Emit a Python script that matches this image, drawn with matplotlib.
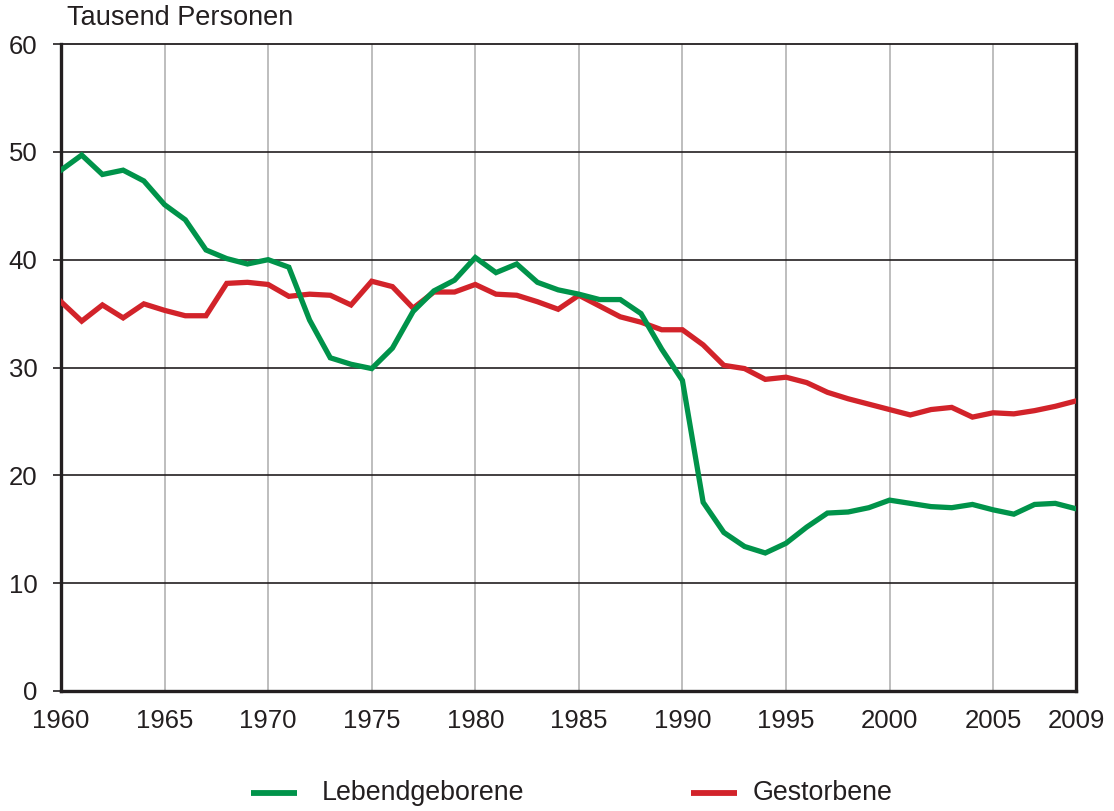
import matplotlib
matplotlib.use("Agg")
import matplotlib.pyplot as plt
from matplotlib.lines import Line2D

years = list(range(1960, 2010))
lebendgeborene = [48.3, 49.7, 47.9, 48.3, 47.3, 45.1, 43.7, 40.9, 40.1, 39.6,
                  40.0, 39.3, 34.4, 30.9, 30.3, 29.9, 31.8, 35.2, 37.1, 38.1,
                  40.2, 38.8, 39.6, 37.9, 37.2, 36.8, 36.3, 36.3, 35.0, 31.7,
                  28.8, 17.5, 14.7, 13.4, 12.8, 13.7, 15.2, 16.5, 16.6, 17.0,
                  17.7, 17.4, 17.1, 17.0, 17.3, 16.8, 16.4, 17.3, 17.4, 16.9]
gestorbene = [36.1, 34.3, 35.8, 34.6, 35.9, 35.3, 34.8, 34.8, 37.8, 37.9,
              37.7, 36.6, 36.8, 36.7, 35.8, 38.0, 37.5, 35.5, 37.0, 37.0,
              37.7, 36.8, 36.7, 36.1, 35.4, 36.7, 35.7, 34.7, 34.2, 33.5,
              33.5, 32.1, 30.2, 29.9, 28.9, 29.1, 28.6, 27.7, 27.1, 26.6,
              26.1, 25.6, 26.1, 26.3, 25.4, 25.8, 25.7, 26.0, 26.4, 26.9]
xticks = [1960, 1965, 1970, 1975, 1980, 1985, 1990, 1995, 2000, 2005, 2009]
yticks = [0, 10, 20, 30, 40, 50, 60]
series_names = ["Lebendgeborene", "Gestorbene"]
green = "#00934a"
red = "#d2232a"

plt.rcParams['font.family'] = ['Liberation Sans', 'DejaVu Sans']

fig = plt.figure(figsize=(11.14, 8.11), dpi=100)
ax = fig.add_axes([61/1114, 120/811, 1015/1114, 647/811])

ax.set_xlim(1960, 2009)
ax.set_ylim(0, 60)

for x in xticks[1:-1]:
    ax.axvline(x, color="#b3b3b3", lw=1.2, zorder=1)
for y in yticks[1:-1]:
    ax.axhline(y, color="#231f20", lw=1.2, zorder=1)

ax.plot(years, gestorbene, color=red, lw=3.8, zorder=3, solid_joinstyle="miter")
ax.plot(years, lebendgeborene, color=green, lw=3.8, zorder=3, solid_joinstyle="miter")

ax.set_xticks(xticks)
ax.set_xticklabels([str(x) for x in xticks], fontsize=18.5, color="#231f20")
ax.set_yticks(yticks)
ax.set_yticklabels([str(y) for y in yticks], fontsize=18.5, color="#231f20")
ax.tick_params(axis="x", length=0, pad=13)
ax.tick_params(axis="y", length=6, width=1.2, pad=11, color="#231f20")

ax.spines["top"].set_linewidth(1.3)
ax.spines["top"].set_color("#231f20")
for side in ["left", "bottom", "right"]:
    ax.spines[side].set_linewidth(2.4)
    ax.spines[side].set_color("#231f20")

fig.text(67/1114, 1 - 18/811, "Tausend Personen", fontsize=19.5, color="#231f20",
         ha="left", va="center")

# legend drawn manually to match spacing
leg_y = 1 - 793/811
leg_items = [(green, series_names[0], 251, 297, 322), (red, series_names[1], 691, 737, 753)]
for color, name, x0, x1, xt in leg_items:
    fig.add_artist(Line2D([x0/1114, x1/1114], [leg_y, leg_y], color=color, lw=4.2,
                          solid_capstyle="butt", transform=fig.transFigure))
    fig.text(xt/1114, leg_y, name, fontsize=19.3, color="#231f20", ha="left", va="center")

fig.savefig("out.png", dpi=100)
